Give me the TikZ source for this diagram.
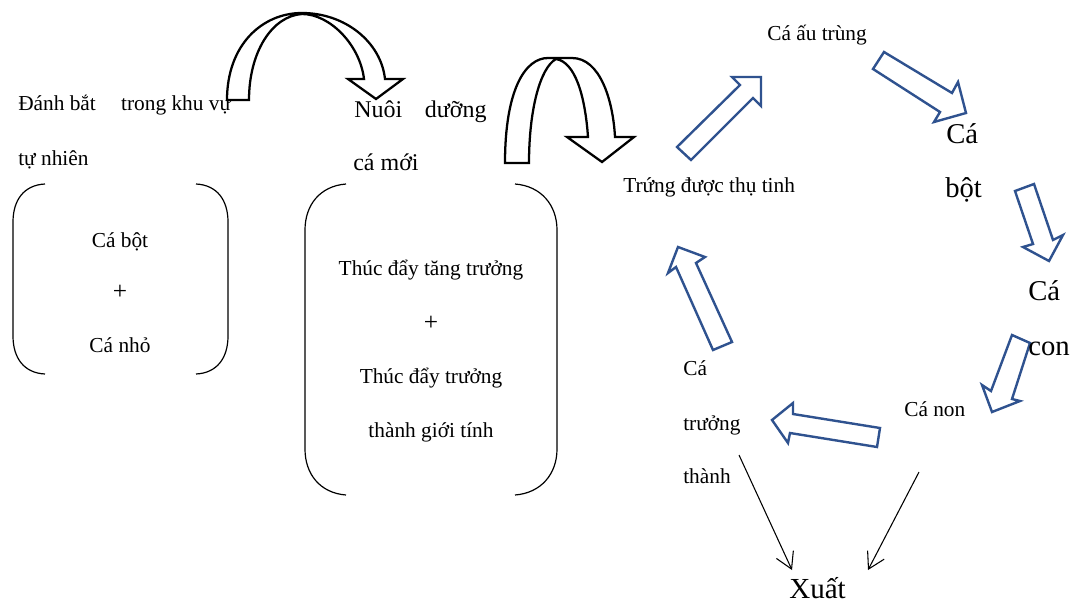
\documentclass[tikz,border=0pt]{standalone}
\usepackage{fontspec}
\setmainfont{Liberation Serif}
\usetikzlibrary{arrows.meta}
\definecolor{arrowblue}{RGB}{47,82,143}
\tikzset{
  lbl/.style={inner sep=0pt, anchor=base west, font=\fontsize{16}{18}\selectfont},
  lblc/.style={inner sep=0pt, anchor=base, font=\fontsize{16}{18}\selectfont},
  plussign/.style={inner sep=0pt, anchor=base, font=\fontsize{19}{20}\selectfont},
  lblm/.style={inner sep=0pt, anchor=base west, font=\fontsize{18}{20}\selectfont},
  lblb/.style={inner sep=0pt, anchor=base west, font=\fontsize{21.5}{24}\selectfont},
  blockarrow/.style={draw=arrowblue, line width=1.8pt, fill=white, line join=miter},
  uturn/.style={draw=black, line width=1.7pt, fill=white, line join=miter},
  paren/.style={draw=black, line width=0.9pt},
  thinarrow/.style={draw=black, line width=0.8pt, -{Straight Barb[length=12pt,width=14pt,line width=0.8pt]}},
}
\begin{document}
\begin{tikzpicture}[x=0.75pt, y=-0.75pt]
  \fill[white] (0,0) rectangle (1073,604);
  \useasboundingbox (0,0) rectangle (1073,604);

  % --- left part: capture in the wild ---
  \node[lbl] (catch1) at (18,110) {Đánh bắt\hspace{19pt}trong khu vự};
  \node[lbl] (catch2) at (18,165) {tự nhiên};

  \draw[paren] (45,184) .. controls (24,185) and (13,200) .. (13,222) -- (13,336)
               .. controls (13,358) and (24,373) .. (45,374);
  \draw[paren] (196,184) .. controls (217,185) and (228,200) .. (228,222) -- (228,336)
               .. controls (228,358) and (217,373) .. (196,374);
  \node[lblc] (fry) at (120,247) {Cá bột};
  \node[plussign] (plus1) at (120,299) {+};
  \node[lblc] (small) at (120,352) {Cá nhỏ};

  % --- middle part: rearing ---
  \node[lblm] (rear1) at (354,117) {Nuôi\hspace{17pt}dưỡng};
  \node[lblm] (rear2) at (353,170) {cá mới};

  \draw[paren] (346,184) .. controls (320,186) and (305,205) .. (305,230) -- (305,449)
               .. controls (305,474) and (320,493) .. (346,495);
  \draw[paren] (515,184) .. controls (541,186) and (557,205) .. (557,230) -- (557,449)
               .. controls (557,474) and (541,493) .. (515,495);
  \node[lblc] (grow) at (431,275) {Thúc đẩy tăng trưởng};
  \node[plussign] (plus2) at (431,330) {+};
  \node[lblc] (mat1) at (431,383) {Thúc đẩy trưởng};
  \node[lblc] (mat2) at (431,437) {thành giới tính};

  % --- U-turn arrows ---
  \path[uturn] (227,100) .. controls (227,45) and (262,13) .. (302,13)
      .. controls (345,13) and (381,42) .. (385,79) -- (403,79) -- (376,99) -- (348,79) -- (364,79)
      .. controls (360,45) and (330,14) .. (302,14)
      .. controls (272,16) and (249,52) .. (249,100) -- cycle;
  \path[uturn] (505,163) .. controls (505,90) and (525,58) .. (548,58) -- (572,58)
      .. controls (600,58) and (613,100) .. (615,137) -- (634,137) -- (602,162) -- (567,137) -- (588,137)
      .. controls (585,95) and (575,62) .. (556,59)
      .. controls (540,68) and (529,110) .. (529,163) -- cycle;

  % --- life cycle ---
  \node[lbl] (larva) at (767,40) {Cá ấu trùng};
  \node[lbl] (egg) at (623,192) {Trứng được thụ tinh};
  \node[lblb] (fryA) at (946,143) {Cá};
  \node[lblb] (fryB) at (945,197) {bột};
  \node[lbl] (juv) at (904,416) {Cá non};
  \node[lbl] (adA) at (683,375) {Cá};
  \node[lbl] (adB) at (683,430) {trưởng};
  \node[lbl] (adC) at (683,483) {thành};

  \path[blockarrow] (677,147) -- (740,85) -- (732,77) -- (761,77) -- (761,106) -- (753,98) -- (691,160) -- cycle;
  \path[blockarrow] (873,69) -- (884,52) -- (952,93) -- (958,82) -- (966,113) -- (934,122) -- (940,112) -- cycle;
  \path[blockarrow] (1015,191) -- (1034,184) -- (1053,240) -- (1063,235) -- (1049,261) -- (1023,247) -- (1033,244) -- cycle;
  \path[blockarrow] (1012,335) -- (1030,343) -- (1012,399) -- (1020,401) -- (992,412) -- (982,385) -- (991,391) -- cycle;
  \path[blockarrow] (880,428) -- (793,414) -- (793,403) -- (772,420) -- (788,443) -- (790,433) -- (877,447) -- cycle;
  \path[blockarrow] (713,350) -- (732,342) -- (696,263) -- (705,257) -- (678,247) -- (668,273) -- (676,267) -- cycle;

  \node[lblb] (youngA) at (1028,300) {Cá};
  \node[lblb] (youngB) at (1028,355) {con};

  % --- sale ---
  \node[inner sep=0pt, anchor=base west, font=\fontsize{21.8}{24}\selectfont] (sale) at (789,598) {Xuất};
  \coordinate (fromAdult) at (739,455);
  \coordinate (fromJuv) at (919,472);
  \coordinate (toSaleL) at (792,570);
  \coordinate (toSaleR) at (868,570);
  \draw[thinarrow] (fromAdult) -- (toSaleL);
  \draw[thinarrow] (fromJuv) -- (toSaleR);
\end{tikzpicture}
\end{document}
